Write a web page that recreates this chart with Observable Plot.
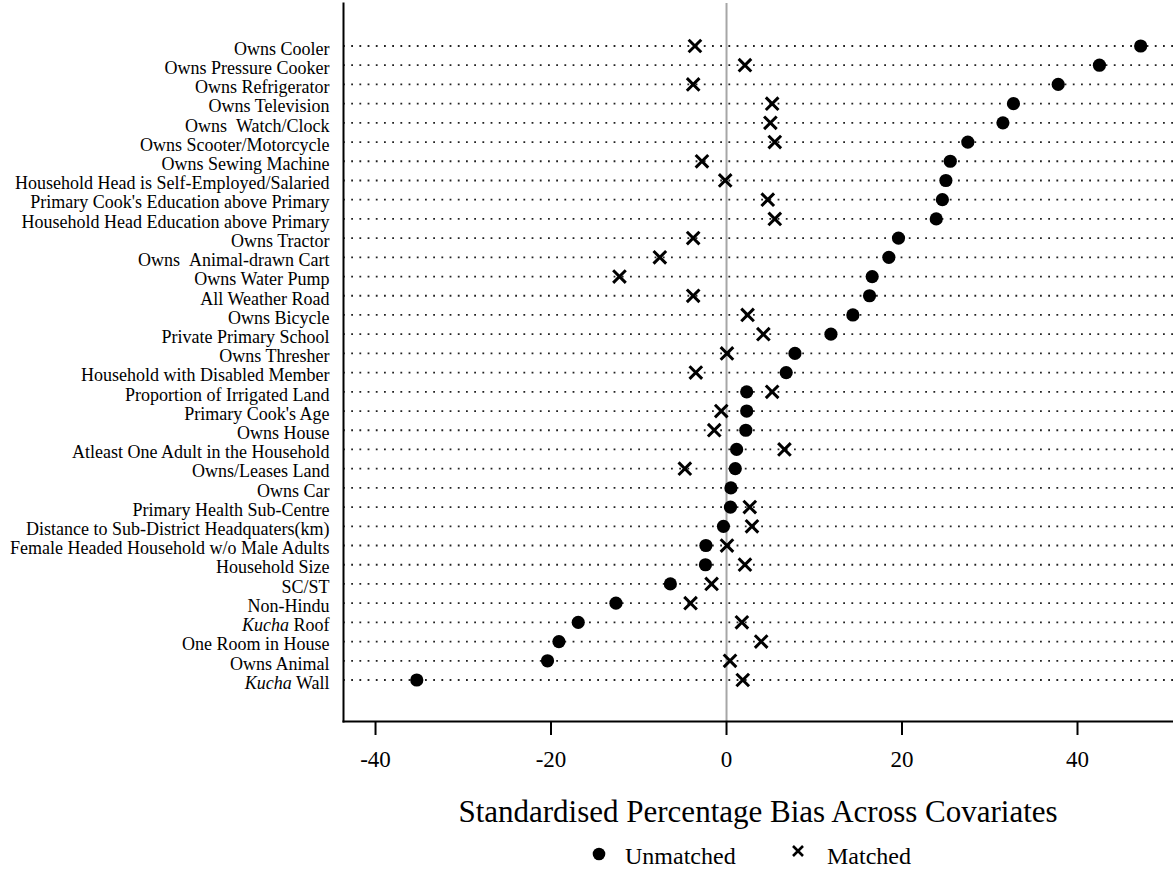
<!DOCTYPE html>
<html><head><meta charset="utf-8">
<script src="https://cdn.jsdelivr.net/npm/d3@7"></script>
<script src="https://cdn.jsdelivr.net/npm/@observablehq/plot@0.6"></script>
<style>
body{margin:0;background:#fff;}
#wrap{position:relative;width:1173px;height:871px;font-family:"Liberation Serif","Times New Roman",serif;color:#000;}
#wrap svg.plot{position:absolute;left:0;top:0;}
.title{position:absolute;left:343px;width:830px;top:796px;text-align:center;font-size:31px;line-height:31px;white-space:nowrap;}
.leg{position:absolute;font-size:24px;line-height:24px;top:844px;white-space:nowrap;}
.sw{position:absolute;}
</style></head><body><div id="wrap"></div>
<script>
const categories = [
  "Owns Cooler","Owns Pressure Cooker","Owns Refrigerator","Owns Television","Owns \u00A0Watch/Clock",
  "Owns Scooter/Motorcycle","Owns Sewing Machine","Household Head is Self-Employed/Salaried",
  "Primary Cook's Education above Primary","Household Head Education above Primary","Owns Tractor",
  "Owns \u00A0Animal-drawn Cart","Owns Water Pump","All Weather Road","Owns Bicycle","Private Primary School",
  "Owns Thresher","Household with Disabled Member","Proportion of Irrigated Land","Primary Cook's Age",
  "Owns House","Atleast One Adult in the Household","Owns/Leases Land","Owns Car","Primary Health Sub-Centre",
  "Distance to Sub-District Headquaters(km)","Female Headed Household w/o Male Adults","Household Size",
  "SC/ST","Non-Hindu","Kucha Roof","One Room in House","Owns Animal","Kucha Wall"
];
const unmatched = [47.2,42.5,37.8,32.7,31.5,27.5,25.5,25.0,24.6,23.9,19.6,18.5,16.6,16.3,14.4,11.9,7.8,6.8,
  2.3,2.3,2.2,1.15,1.0,0.5,0.45,-0.35,-2.35,-2.4,-6.4,-12.6,-16.9,-19.1,-20.4,-35.3];
const matched = [-3.6,2.1,-3.8,5.2,5.0,5.5,-2.8,-0.15,4.7,5.5,-3.8,-7.6,-12.2,-3.8,2.4,4.2,0.05,-3.5,
  5.2,-0.6,-1.4,6.6,-4.75,null,2.65,2.9,0.05,2.1,-1.7,-4.1,1.75,3.95,0.4,1.85];
const xTicks = [-40,-20,0,20,40];
const xDomain = [-43.65, 50.94];
const legendLabels = ["Unmatched","Matched"];
const titleText = "Standardised Percentage Bias Across Covariates";
const italicPrefix = "Kucha";

const rows = categories.map((c,i)=>({c, u: unmatched[i], m: matched[i]}));
const font = '"Liberation Serif","Times New Roman",serif';

const chart = Plot.plot({
  width:1173, height:790, marginLeft:343, marginRight:0, marginTop:3, marginBottom:69,
  style:{fontFamily:font, background:"#fff", color:"#000", overflow:"visible"},
  x:{domain:xDomain, ticks:xTicks},
  y:{type:"point", domain:categories, padding:0, round:false, insetTop:42.5, insetBottom:41.5},
  marks:[
    Plot.ruleX([0],{stroke:"#a6a6a6", strokeWidth:2}),
    Plot.ruleY(categories,{y:d=>d, stroke:"#222", strokeWidth:1.8, strokeDasharray:"1.8 6.4"}),
    Plot.frame({anchor:"left", stroke:"#000", strokeWidth:2}),
    Plot.frame({anchor:"bottom", stroke:"#000", strokeWidth:2}),
    Plot.axisX({ticks:xTicks, tickSize:14, tickPadding:15, fontSize:23, strokeWidth:2, label:null, tickFormat:d=>String(d)}),
    Plot.axisY({tickSize:0, tickPadding:14, fontSize:18, label:null, dy:3}),
    Plot.dot(rows,{x:"u", y:"c", r:6.6, fill:"#000", stroke:null}),
    Plot.dot(rows.filter(d=>d.m!=null),{x:"m", y:"c", symbol:"times", r:5.8, stroke:"#000", strokeWidth:3})
  ]
});
chart.classList.add("plot");

d3.select(chart).selectAll("text").each(function(){
  const t = this.textContent;
  if (t.startsWith(italicPrefix + " ")) {
    const s = d3.select(this);
    s.text(null);
    s.append("tspan").attr("font-style","italic").text(italicPrefix);
    s.append("tspan").text(t.slice(italicPrefix.length));
  }
});

const wrap = document.getElementById("wrap");
wrap.appendChild(chart);

const title = document.createElement("div");
title.className = "title";
title.textContent = titleText;
wrap.appendChild(title);

const ns = "http://www.w3.org/2000/svg";
function swatch(kind, left, top){
  const s = document.createElementNS(ns,"svg");
  s.setAttribute("class","sw");
  s.setAttribute("width",16); s.setAttribute("height",16);
  s.style.left = left+"px"; s.style.top = top+"px";
  if (kind==="circle"){
    const c = document.createElementNS(ns,"circle");
    c.setAttribute("cx",8); c.setAttribute("cy",8); c.setAttribute("r",6.3); c.setAttribute("fill","#000");
    s.appendChild(c);
  } else {
    const p = document.createElementNS(ns,"path");
    p.setAttribute("d","M3,3L13,13M13,3L3,13"); p.setAttribute("stroke","#000"); p.setAttribute("stroke-width",2.6);
    s.appendChild(p);
  }
  wrap.appendChild(s);
}
swatch("circle", 591, 846);
swatch("times", 790, 843);
const l1 = document.createElement("div"); l1.className="leg"; l1.style.left="625px"; l1.textContent=legendLabels[0]; wrap.appendChild(l1);
const l2 = document.createElement("div"); l2.className="leg"; l2.style.left="827px"; l2.textContent=legendLabels[1]; wrap.appendChild(l2);
</script></body></html>
